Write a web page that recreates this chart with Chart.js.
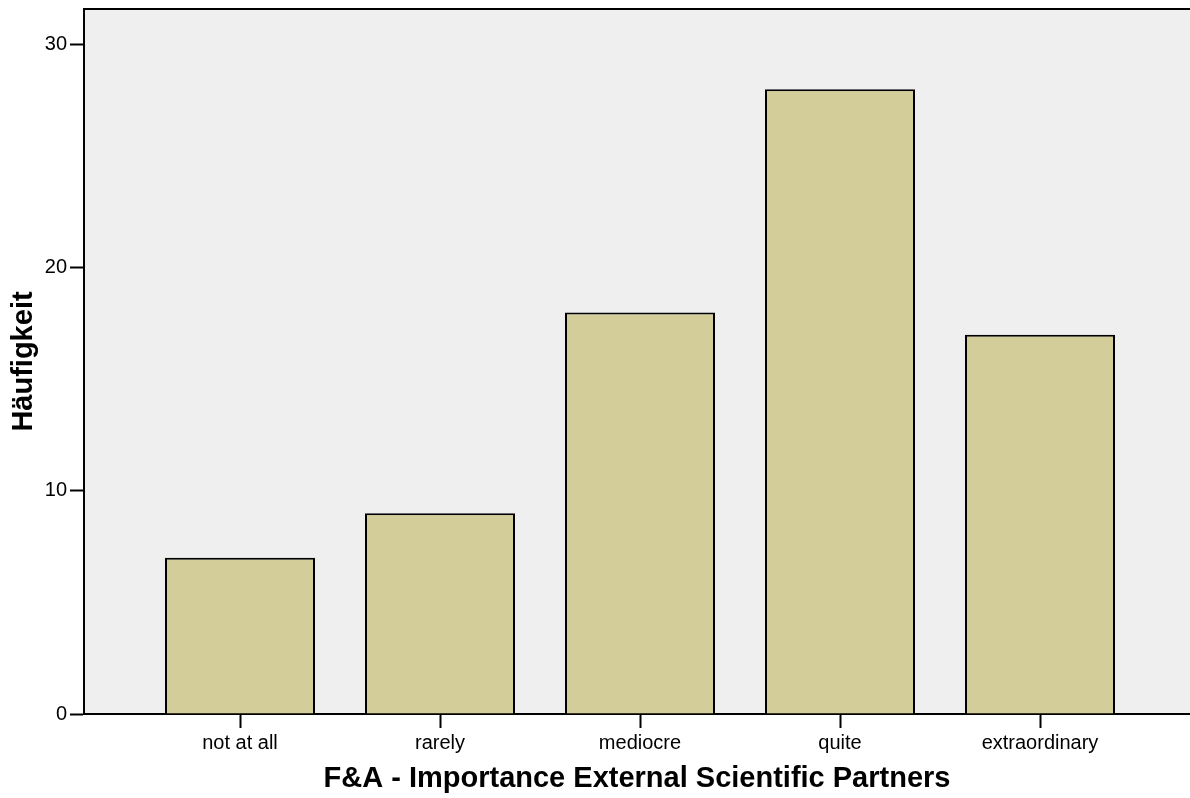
<!DOCTYPE html>
<html>
<head>
<meta charset="utf-8">
<script src="https://cdn.jsdelivr.net/npm/chart.js@4/dist/chart.umd.min.js"></script>
<style>
  html, body { margin: 0; padding: 0; background: #fff; }
  #wrap { width: 1190px; height: 798px; }
</style>
</head>
<body>
<div id="wrap"><canvas id="chart" width="1190" height="798"></canvas></div>
<script>
// Häufigkeiten je Antwortkategorie
var categories = ["not at all", "rarely", "mediocre", "quite", "extraordinary"];
var counts     = [7, 9, 18, 28, 17];
var yTicks     = [0, 10, 20, 30];

var xTitle = "F&A - Importance External Scientific Partners";
var yTitle = "Häufigkeit";

// Hintergrund der Plotfläche + obere Rahmenlinie
var plotFrame = {
    id: "plotFrame",
    beforeDraw: function (chart) {
        var a = chart.chartArea, ctx = chart.ctx;
        ctx.save();
        ctx.fillStyle = "#efefef";
        ctx.fillRect(a.left, a.top, a.right - a.left, a.bottom - a.top);
        ctx.restore();
    },
    afterDraw: function (chart) {
        var a = chart.chartArea, ctx = chart.ctx;
        ctx.save();
        ctx.strokeStyle = "#000";
        ctx.lineWidth = 2;
        ctx.beginPath();
        ctx.moveTo(a.left - 1, a.top);
        ctx.lineTo(a.right, a.top);
        ctx.stroke();
        ctx.restore();
    }
};

var FONT = "'Liberation Sans', Arial, sans-serif";

new Chart(document.getElementById("chart").getContext("2d"), {
    type: "bar",
    data: {
        datasets: [{
            data: counts.map(function (v, i) { return { x: i, y: v }; }),
            backgroundColor: "#d3ce99",
            borderColor: "#000",
            borderWidth: 2,
            barPercentage: 0.75,
            categoryPercentage: 1
        }]
    },
    options: {
        responsive: false,
        animation: false,
        layout: { padding: { top: 9, right: 0, left: 0, bottom: 0 } },
        plugins: {
            legend: { display: false },
            tooltip: { enabled: false }
        },
        scales: {
            x: {
                type: "linear",
                min: -0.78,
                max: 4.75,
                offset: false,
                afterBuildTicks: function (scale) {
                    scale.ticks = categories.map(function (_, i) { return { value: i }; });
                },
                afterFit: function (scale) {
                    scale.height = 84;
                    scale.paddingLeft = 0;
                    scale.paddingRight = 0;
                },
                ticks: {
                    autoSkip: false,
                    maxRotation: 0,
                    padding: 3,
                    color: "#000",
                    font: { family: FONT, size: 20 },
                    callback: function (v) { return categories[v]; }
                },
                grid: {
                    offset: false,
                    drawOnChartArea: false,
                    drawTicks: true,
                    tickLength: 14,
                    tickWidth: 2,
                    tickColor: "#000"
                },
                border: { display: true, color: "#000", width: 2 },
                title: {
                    display: true,
                    text: xTitle,
                    color: "#000",
                    font: { family: FONT, size: 29, weight: "bold", lineHeight: 1 },
                    padding: { top: 0, bottom: 5 }
                }
            },
            y: {
                min: 0,
                max: 31.6,
                afterBuildTicks: function (scale) {
                    scale.ticks = yTicks.map(function (v) { return { value: v }; });
                },
                afterFit: function (scale) {
                    scale.width = 84;
                    scale.paddingTop = 0;
                    scale.paddingBottom = 0;
                },
                ticks: {
                    padding: 3,
                    color: "#000",
                    font: { family: FONT, size: 20 }
                },
                grid: {
                    drawOnChartArea: false,
                    drawTicks: true,
                    tickLength: 14,
                    tickWidth: 2,
                    tickColor: "#000"
                },
                border: { display: true, color: "#000", width: 2 },
                title: {
                    display: true,
                    text: yTitle,
                    color: "#000",
                    font: { family: FONT, size: 29, weight: "bold", lineHeight: 1 },
                    padding: { top: 9, bottom: 0 }
                }
            }
        }
    },
    plugins: [plotFrame]
});
</script>
</body>
</html>
